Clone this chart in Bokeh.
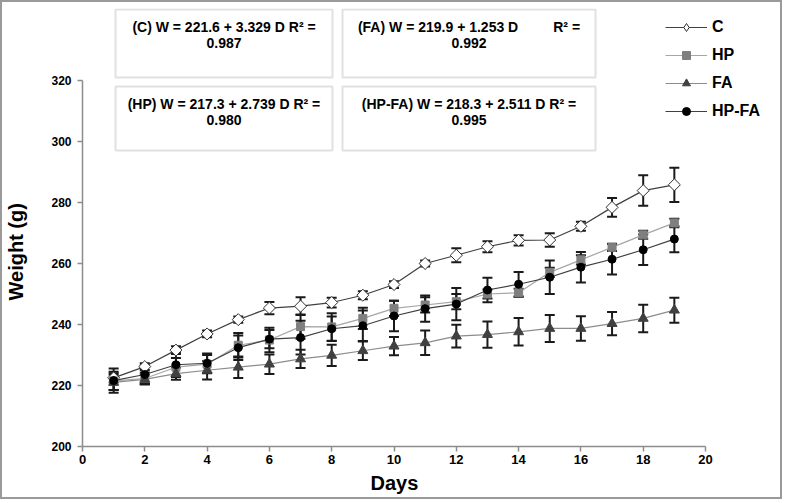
import numpy as np
from bokeh.plotting import figure
from bokeh.models import (ColumnDataSource, Range1d, FixedTicker, Whisker, TeeHead,
                          Label, BoxAnnotation, Legend, LegendItem, Title, LinearAxis)
from bokeh.embed import file_html
from bokeh.resources import INLINE

# ---------------- data ----------------
days = list(range(1, 20))
c_mean = [222.5, 226.2, 231.6, 236.9, 241.6, 245.4, 246.0, 247.2, 249.6, 253.1,
          260.0, 262.7, 265.5, 267.6, 267.7, 272.2, 278.4, 283.9, 285.8]
c_sd = [1.5, 1.1, 1.3, 1.1, 1.0, 2.0, 2.9, 1.6, 1.3, 1.1,
        1.0, 2.3, 1.8, 1.7, 2.2, 1.5, 3.1, 5.0, 5.6]
hp_mean = [221.5, 222.3, 226.0, 227.0, 233.2, 234.9, 239.3, 239.2, 242.0, 245.3,
           246.4, 247.5, 250.0, 250.4, 257.1, 261.2, 265.3, 269.4, 273.3]
hp_sd = [3.0, 2.0, 3.0, 3.0, 4.0, 4.0, 4.0, 4.5, 3.5, 2.5,
         2.5, 2.5, 1.5, 1.3, 1.5, 1.5, 1.2, 1.3, 1.4]
fa_mean = [221.0, 222.0, 223.9, 225.0, 226.0, 227.0, 228.7, 229.9, 231.4, 232.9,
           234.0, 236.2, 236.7, 237.6, 238.7, 238.7, 240.3, 242.0, 244.7]
fa_sd = [2.5, 1.5, 2.0, 3.0, 3.5, 3.2, 3.0, 3.5, 3.0, 3.0,
         4.0, 3.7, 4.3, 4.5, 4.4, 4.0, 3.8, 4.5, 4.1]
hpfa_mean = [221.6, 223.6, 226.8, 227.3, 232.4, 235.2, 235.7, 238.6, 239.6, 242.8,
             245.2, 246.7, 251.3, 253.2, 255.5, 258.8, 261.4, 264.5, 268.0]
hpfa_sd = [4.0, 3.0, 4.0, 3.2, 4.0, 3.0, 5.5, 4.0, 5.0, 5.0,
           4.3, 5.3, 4.0, 4.0, 5.5, 5.0, 5.0, 5.0, 4.3]

series_names = ["C", "HP", "FA", "HP-FA"]
x_ticks = list(range(0, 21, 2))
y_ticks = list(range(200, 321, 20))
GAP = "\u00a0" * 9
equations = [
    ("(C) W = 221.6 + 3.329 D R\u00b2 =", "0.987"),
    ("(FA) W = 219.9 + 1.253 D" + GAP + "R\u00b2 =", "0.992"),
    ("(HP) W = 217.3 + 2.739 D R\u00b2 =", "0.980"),
    ("(HP-FA) W = 218.3 + 2.511 D R\u00b2 =", "0.995"),
]
x_title = "Days"
y_title = "Weight (g)"

# ---------------- layout constants (pixels) ----------------
W, H = 782, 499
ML, MR, MT, MB = 80, 15, 6, 55
PX_X = 31.15          # pixels per day
PX_Y = 3.05           # pixels per gram
FRAME_W = W - ML - MR
FRAME_H = H - MT - MB
x_end = FRAME_W / PX_X
y_end = 200 + FRAME_H / PX_Y
PAGE_OFF = 2          # page offset of figure canvas (border)
X0_PAGE = PAGE_OFF + ML
Y0_PAGE = PAGE_OFF + MT + FRAME_H


def dx(px):
    return (px - X0_PAGE) / PX_X


def dy(py):
    return 200 + (Y0_PAGE - py) / PX_Y


FONT = "Liberation Sans"
AXIS_GRAY = "#8c8c8c"

p = figure(width=W, height=H, x_range=Range1d(0, x_end), y_range=Range1d(200, y_end),
           output_backend="svg", toolbar_location=None,
           min_border_left=ML, min_border_right=MR, min_border_top=MT, min_border_bottom=MB)
p.styles = {"border": "2px solid #9a9a9a"}
p.grid.visible = False
p.outline_line_color = None
p.background_fill_color = "white"
p.border_fill_color = "white"

for ax, ticks, bounds in ((p.xaxis, x_ticks, (0, 20)), (p.yaxis, y_ticks, (200, 320))):
    ax.ticker = FixedTicker(ticks=ticks)
    ax.bounds = bounds
    ax.axis_line_color = AXIS_GRAY
    ax.axis_line_width = 1.5
    ax.major_tick_line_color = AXIS_GRAY
    ax.major_tick_line_width = 1.5
    ax.major_tick_out = 5
    ax.major_tick_in = 0
    ax.minor_tick_line_color = None
    ax.major_label_text_font = FONT
    ax.major_label_text_font_style = "bold"
    ax.major_label_text_color = "black"
p.xaxis.major_label_text_font_size = "13px"
p.yaxis.major_label_text_font_size = "12px"
p.xaxis.major_label_standoff = 3
p.yaxis.major_label_standoff = 6


def spacer_axis(extent, tick):
    """A blank axis (one white tick, no label) that only pushes the axis title outward."""
    return LinearAxis(ticker=FixedTicker(ticks=[tick]), axis_line_color=None,
                      major_tick_line_color="white", minor_tick_line_color=None,
                      major_tick_out=extent, major_tick_in=0, minor_tick_out=0,
                      minor_tick_in=0, major_label_standoff=0,
                      major_label_overrides={tick: ""})


p.add_layout(spacer_axis(20, y_ticks[0]), "left")
p.add_layout(spacer_axis(3, x_ticks[0]), "below")

# axis titles as side-panel titles (positioned by offset)
p.add_layout(Title(text=y_title, align="left", offset=446 - 300, vertical_align="top",
                   standoff=0, text_font=FONT, text_font_style="bold",
                   text_font_size="20px", text_color="black"), "left")
p.add_layout(Title(text=x_title, align="left", offset=394 - X0_PAGE - 24,
                   vertical_align="bottom", standoff=0, text_font=FONT,
                   text_font_style="bold", text_font_size="20px", text_color="black"),
             "below")

styles = {
    "C": dict(line="#404040", marker="square", angle=np.pi / 4, size=8.5,
              fill="white", mline="#303030"),
    "HP": dict(line="#a6a6a6", marker="square", angle=0, size=8,
               fill="#7f7f7f", mline="#7f7f7f"),
    "FA": dict(line="#8c8c8c", marker="triangle", angle=0, size=10,
               fill="#404040", mline="#404040"),
    "HP-FA": dict(line="#404040", marker="circle", angle=0, size=8,
                  fill="black", mline="black"),
}
data = {"C": (c_mean, c_sd), "HP": (hp_mean, hp_sd), "FA": (fa_mean, fa_sd),
        "HP-FA": (hpfa_mean, hpfa_sd)}

items = []
for name in series_names:
    m, s = data[name]
    st = styles[name]
    src = ColumnDataSource(dict(x=days, y=m,
                                upper=[a + b for a, b in zip(m, s)],
                                lower=[a - b for a, b in zip(m, s)]))
    wh = Whisker(base="x", upper="upper", lower="lower", source=src,
                 line_color="#1a1a1a", line_width=2,
                 upper_head=TeeHead(size=10, line_color="#1a1a1a", line_width=2),
                 lower_head=TeeHead(size=10, line_color="#1a1a1a", line_width=2))
    p.add_layout(wh)
    ln = p.line("x", "y", source=src, line_color=st["line"], line_width=1.2)
    sc = p.scatter("x", "y", source=src, marker=st["marker"], angle=st["angle"],
                   size=st["size"], fill_color=st["fill"], line_color=st["mline"],
                   line_width=1)
    if st["angle"]:
        # hidden twin renderer so the legend shows an upright diamond
        sc = p.scatter("x", "y", source=src, marker="diamond", size=15,
                       fill_color=st["fill"], line_color=st["mline"], line_width=1,
                       visible=False)
    items.append(LegendItem(label=name, renderers=[ln, sc]))

legend = Legend(items=items, location="top_right", margin=9, padding=5,
                glyph_width=42, glyph_height=20, label_height=20, spacing=8,
                label_standoff=5, border_line_color=None, background_fill_alpha=0,
                label_text_font=FONT, label_text_font_style="bold",
                label_text_font_size="16px", label_text_color="black")
p.add_layout(legend)

# equation boxes (page-pixel layout)
box_x = [(115, 332), (342, 595)]
box_y = [(9, 77), (86, 150)]
order = [(0, 0), (0, 1), (1, 0), (1, 1)]  # (row, col) for each equation
for (row, col), (l1, l2) in zip(order, equations):
    x0, x1 = box_x[col]
    y0, y1 = box_y[row]
    p.add_layout(BoxAnnotation(left=dx(x0), right=dx(x1), top=dy(y0), bottom=dy(y1),
                               fill_color="white", fill_alpha=1,
                               line_color="#9a9a9a", line_width=2, level="overlay"))
    cx = dx((x0 + x1) / 2)
    for txt, yy in ((l1, y0 + 17.5), (l2, y0 + 33.5)):
        p.add_layout(Label(x=cx, y=dy(yy), text=txt, text_align="center",
                           text_baseline="middle", text_font=FONT,
                           text_font_style="bold", text_font_size="14px",
                           text_color="black", level="overlay"))

open("out.html", "w").write(file_html(p, INLINE))
